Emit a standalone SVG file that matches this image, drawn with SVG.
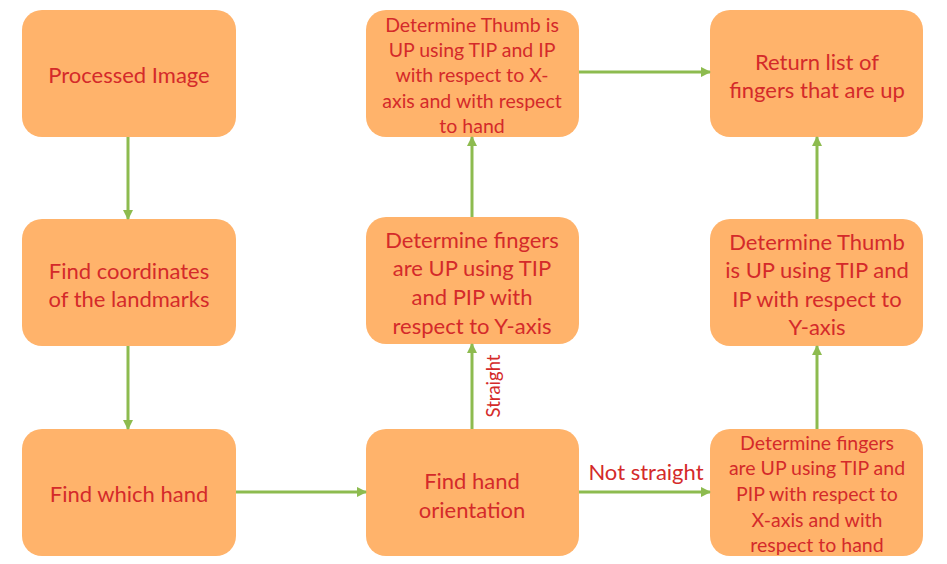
<svg xmlns="http://www.w3.org/2000/svg" width="947" height="564" viewBox="0 0 947 564">
<defs>
<style>
.box{fill:#FFB36B;}
.t{font-family:Lato,"Liberation Sans",sans-serif;fill:#D42A2A;text-anchor:middle;}
.l{font-size:22px;}
.s{font-size:19.5px;}
.c{stroke:#8DBB4F;stroke-width:3;fill:none;marker-end:url(#ah);}
.lab{font-family:Lato,"Liberation Sans",sans-serif;fill:#D42A2A;}
</style>
<marker id="ah" viewBox="0 0 10 10" refX="9" refY="5" markerWidth="3.5" markerHeight="3.5" orient="auto" markerUnits="strokeWidth">
<path d="M0,0 L10,5 L0,10 z" fill="#8DBB4F"/>
</marker>
</defs>
<rect width="947" height="564" fill="#ffffff"/>
<g id="n1"><rect class="box" x="22" y="10" width="214" height="127" rx="20"/>
<text class="t l" x="129" y="83">Processed Image</text></g>
<g id="n2"><rect class="box" x="22" y="219" width="214" height="127" rx="20"/>
<text class="t l" x="129" y="279">Find coordinates</text><text class="t l" x="129" y="307">of the landmarks</text></g>
<g id="n3"><rect class="box" x="22" y="429" width="214" height="127" rx="20"/>
<text class="t l" x="129" y="502">Find which hand</text></g>
<g id="n4"><rect class="box" x="366" y="429" width="213" height="127" rx="20"/>
<text class="t l" x="472" y="489">Find hand</text><text class="t l" x="472" y="518">orientation</text></g>
<g id="n5"><rect class="box" x="366" y="217" width="213" height="127" rx="20"/>
<text class="t l" x="472" y="248">Determine fingers</text><text class="t l" x="472" y="276">are UP using TIP</text><text class="t l" x="472" y="305">and PIP with</text><text class="t l" x="472" y="334">respect to Y-axis</text></g>
<g id="n6"><rect class="box" x="366" y="10" width="213" height="127" rx="20"/>
<text class="t s" x="472" y="32">Determine Thumb is</text><text class="t s" x="472" y="57">UP using TIP and IP</text><text class="t s" x="472" y="82">with respect to X-</text><text class="t s" x="472" y="108">axis and with respect</text><text class="t s" x="472" y="133">to hand</text></g>
<g id="n7"><rect class="box" x="710" y="10" width="213" height="127" rx="20"/>
<text class="t l" x="817" y="70">Return list of</text><text class="t l" x="817" y="98">fingers that are up</text></g>
<g id="n8"><rect class="box" x="710" y="219" width="213" height="127" rx="20"/>
<text class="t l" x="817" y="250">Determine Thumb</text><text class="t l" x="817" y="278">is UP using TIP and</text><text class="t l" x="817" y="307">IP with respect to</text><text class="t l" x="817" y="335">Y-axis</text></g>
<g id="n9"><rect class="box" x="710" y="429" width="213" height="127" rx="20"/>
<text class="t s" x="817" y="450">Determine fingers</text><text class="t s" x="817" y="475">are UP using TIP and</text><text class="t s" x="817" y="501">PIP with respect to</text><text class="t s" x="817" y="527">X-axis and with</text><text class="t s" x="817" y="552">respect to hand</text></g>
<g id="connectors">
<line class="c" x1="128" y1="137" x2="128" y2="219"/>
<line class="c" x1="128" y1="346" x2="128" y2="429"/>
<line class="c" x1="236" y1="492" x2="366" y2="492"/>
<line class="c" x1="472" y1="429" x2="472" y2="344"/>
<line class="c" x1="472" y1="217" x2="472" y2="137"/>
<line class="c" x1="579" y1="72" x2="710" y2="72"/>
<line class="c" x1="579" y1="492" x2="710" y2="492"/>
<line class="c" x1="817" y1="429" x2="817" y2="346"/>
<line class="c" x1="817" y1="219" x2="817" y2="137"/>
<text class="lab" font-size="18.5" transform="translate(500,386) rotate(-90)" text-anchor="middle">Straight</text>
<text class="lab" font-size="22" x="646" y="480" text-anchor="middle">Not straight</text>
</g>
</svg>
